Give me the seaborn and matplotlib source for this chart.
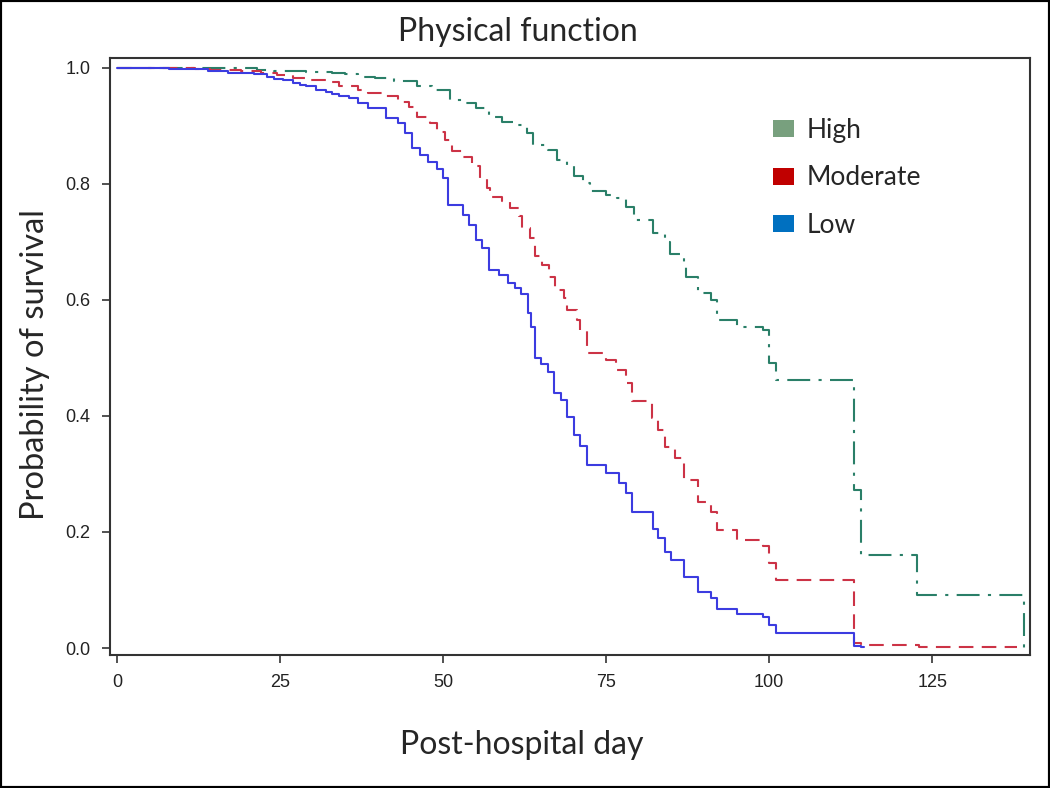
import pandas as pd
import matplotlib.pyplot as plt
from matplotlib.patches import Patch, Rectangle
import seaborn as sns

# Kaplan-Meier style step curves (day, survival after step)
high_day = [0, 21.5, 24, 29, 33, 35, 37, 39.5, 42.4, 46, 48.3, 51, 53, 55, 57, 59, 61,
            62.8, 63.8, 66, 67.4, 69, 70, 71.5, 72.5, 75, 76.6, 78, 79.2, 82.2, 84, 84.8,
            87, 87.3, 89, 91, 92, 95, 99, 100, 101, 113, 114, 122.7, 139]
high_surv = [1.0, 0.997, 0.995, 0.993, 0.991, 0.989, 0.985, 0.982, 0.977, 0.968, 0.962,
             0.945, 0.939, 0.930, 0.916, 0.907, 0.902, 0.887, 0.867, 0.859, 0.841, 0.830,
             0.813, 0.801, 0.787, 0.781, 0.775, 0.761, 0.738, 0.715, 0.700, 0.680, 0.666,
             0.640, 0.612, 0.600, 0.566, 0.554, 0.548, 0.491, 0.462, 0.272, 0.160, 0.091, 0.0]

mod_day = [0, 12, 14.3, 19, 22, 24.5, 27, 29, 32, 34, 37, 38.5, 41, 43, 44.7, 46, 48, 49,
           50.3, 51.3, 53, 54.4, 55.7, 56.7, 57.2, 59, 60.3, 61.6, 62.1, 63.3, 64.1, 65.1,
           66.2, 67.2, 68.5, 69, 70.5, 71, 72, 75, 76.5, 78, 79, 82, 83, 84, 85.5, 87, 89,
           91, 92, 95, 99, 100, 101, 113, 114, 123, 138]
mod_surv = [1.0, 0.998, 0.997, 0.994, 0.991, 0.988, 0.982, 0.979, 0.975, 0.968, 0.962,
            0.956, 0.951, 0.942, 0.933, 0.916, 0.905, 0.890, 0.876, 0.856, 0.847, 0.830,
            0.810, 0.793, 0.778, 0.770, 0.758, 0.744, 0.724, 0.706, 0.675, 0.660, 0.640,
            0.617, 0.603, 0.583, 0.565, 0.548, 0.508, 0.497, 0.479, 0.456, 0.425, 0.396,
            0.376, 0.347, 0.327, 0.290, 0.252, 0.235, 0.203, 0.186, 0.175, 0.146, 0.117,
            0.009, 0.006, 0.002, 0.002]

low_day = [0, 8, 14, 17, 21, 23, 24, 25.5, 27, 28, 29, 30.5, 32, 33, 34, 35.5, 37, 38.5,
           41.3, 43, 44.2, 45.2, 46.5, 47.7, 49, 50, 50.8, 53, 54, 55, 56, 57, 58.5, 60,
           61, 62, 63, 63.5, 64, 65, 66, 67, 68, 69, 70, 71, 72, 75, 77, 78, 79, 82.2, 83,
           84, 85, 87, 89, 91, 92, 95, 99, 100, 101, 113, 114, 114.5]
low_surv = [1.0, 0.998, 0.994, 0.991, 0.989, 0.984, 0.981, 0.979, 0.974, 0.971, 0.968,
            0.962, 0.959, 0.955, 0.951, 0.948, 0.939, 0.930, 0.913, 0.905, 0.887, 0.862,
            0.850, 0.838, 0.825, 0.810, 0.764, 0.747, 0.729, 0.703, 0.689, 0.652, 0.643,
            0.630, 0.620, 0.611, 0.577, 0.554, 0.500, 0.490, 0.476, 0.439, 0.427, 0.399,
            0.367, 0.348, 0.316, 0.301, 0.284, 0.267, 0.235, 0.206, 0.190, 0.166, 0.152,
            0.122, 0.097, 0.086, 0.067, 0.058, 0.054, 0.040, 0.026, 0.003, 0.001, 0.001]

groups = ["High", "Moderate", "Low"]
line_colors = {"High": "#2a7f68", "Moderate": "#cc3346", "Low": "#3c3ce0"}
patch_colors = {"High": "#78a07e", "Moderate": "#c00000", "Low": "#0070c0"}
line_dashes = {"High": (11, 4, 1.5, 4), "Moderate": (7, 4), "Low": ""}

df = pd.concat([
    pd.DataFrame({"day": high_day, "surv": high_surv, "group": "High"}),
    pd.DataFrame({"day": mod_day, "surv": mod_surv, "group": "Moderate"}),
    pd.DataFrame({"day": low_day, "surv": low_surv, "group": "Low"}),
])

sns.set_theme(style="ticks")
plt.rcParams['font.family'] = ['Lato', 'DejaVu Sans']

fig = plt.figure(figsize=(10.5, 7.88), dpi=100)
ax = fig.add_axes([0.1048, 0.1688, 0.8762, 0.7576])

sns.lineplot(data=df, x="day", y="surv", hue="group", style="group",
             hue_order=groups, style_order=groups, palette=line_colors,
             dashes=line_dashes, drawstyle="steps-post", estimator=None,
             sort=False, linewidth=1.5, legend=False, ax=ax)

ax.set_xlim(-1.1, 140)
ax.set_ylim(-0.012, 1.017)
ax.set_xticks([0, 25, 50, 75, 100, 125])
ax.set_yticks([0.0, 0.2, 0.4, 0.6, 0.8, 1.0])
ax.set_yticklabels(["0.0", "0.2", "0.4", "0.6", "0.8", "1.0"])
tick_font = ['Liberation Sans Narrow', 'Liberation Sans']
for lab in ax.get_xticklabels() + ax.get_yticklabels():
    lab.set_family(tick_font)
    lab.set_fontsize(13)
    lab.set_color("#222222")
ax.tick_params(direction="out", length=6, width=1.2, color="#333333", pad=8)
for s in ax.spines.values():
    s.set_color("#333333")
    s.set_linewidth(1.5)

ax.set_xlabel("Post-hospital day", fontsize=23)
ax.xaxis.set_label_coords(0.447, -0.151)
ax.xaxis.label.set_va("center")
ax.set_ylabel("Probability of survival", fontsize=23.5)
ax.yaxis.set_label_coords(-0.0815, 0.486)
ax.yaxis.label.set_va("center")
ax.set_title("Physical function", fontsize=23, x=0.4435, y=1.044, va="center", pad=0)

handles = [Patch(facecolor=patch_colors[g], edgecolor="none", label=g) for g in groups]
ax.legend(handles=handles, loc="upper left", bbox_to_anchor=(0.706, 0.922),
          frameon=False, fontsize=19, labelspacing=0.86, handlelength=0.8,
          handleheight=0.6, handletextpad=0.5, borderpad=0)

fig.patches.append(Rectangle((0, 0), 1, 1, transform=fig.transFigure, fill=False,
                             edgecolor="black", linewidth=3))

plt.savefig("out.png", dpi=100)
